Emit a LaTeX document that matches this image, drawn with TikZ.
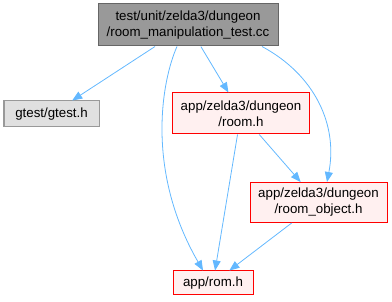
\documentclass[tikz,border=0pt]{standalone}
\usepackage{fontspec}
\setmainfont{Liberation Sans}
\usetikzlibrary{arrows.meta}

\definecolor{edgeblue}{HTML}{63B8FF}
\definecolor{curfill}{HTML}{999999}
\definecolor{curdraw}{HTML}{666666}
\definecolor{extfill}{HTML}{E0E0E0}
\definecolor{extdraw}{HTML}{999999}
\definecolor{incfill}{HTML}{FFF0F0}

\tikzset{
    filebox/.style={draw, line width=1pt, align=center, inner sep=0pt,
        font=\fontsize{13.3}{16}\selectfont},
    curfile/.style={filebox, fill=curfill, draw=curdraw},
    extfile/.style={filebox, fill=extfill, draw=extdraw},
    incfile/.style={filebox, fill=incfill, draw=red},
    dep/.style={draw=edgeblue, line width=0.8pt,
        -{Triangle[length=10pt,width=8pt]}}
}

\begin{document}
\begin{tikzpicture}[x=1pt, y=-1pt]
    \useasboundingbox (0,0) rectangle (392,302);

        % Files
        \node[curfile, minimum width=180pt, minimum height=42pt] (test) at (188,25)
            {test/unit/zelda3/dungeon\\/room\_manipulation\_test.cc};
        \node[extfile, minimum width=95pt, minimum height=26pt] (gtest) at (51.5,114)
            {gtest/gtest.h};
        \node[incfile, minimum width=137pt, minimum height=41pt] (room) at (241,113.5)
            {app/zelda3/dungeon\\/room.h};
        \node[incfile, minimum width=137pt, minimum height=40pt] (roomobj) at (318.5,202.5)
            {app/zelda3/dungeon\\/room\_object.h};
        \node[incfile, minimum width=80pt, minimum height=24pt] (rom) at (213,283)
            {app/rom.h};

        % Includes
        \draw[dep] (test) -- (gtest);
        \draw[dep] (test) -- (room);
        \draw[dep] ([xshift=-11pt]test.south) .. controls (162,80) and (145,170) .. ([xshift=-10pt]rom.north);
        \draw[dep] ([xshift=74pt]test.south) .. controls (315,75) and (338,125) .. ([xshift=8.5pt]roomobj.north);
        \draw[dep] (room) -- (rom);
        \draw[dep] (room) -- (roomobj);
        \draw[dep] (roomobj) -- (rom);

\end{tikzpicture}
\end{document}
